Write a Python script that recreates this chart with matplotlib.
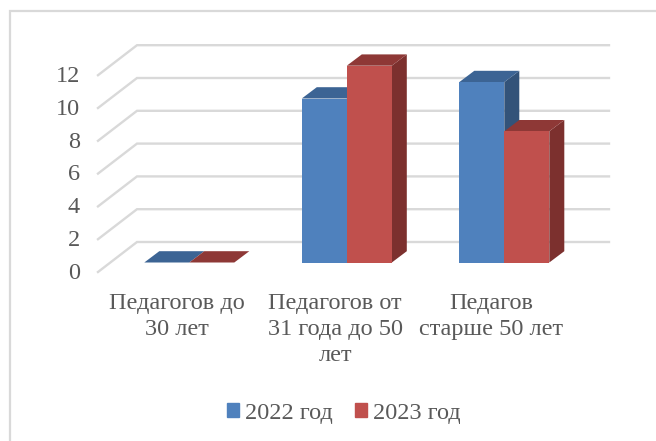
import matplotlib
matplotlib.use("Agg")
import matplotlib.pyplot as plt
from matplotlib.lines import Line2D
from matplotlib.patches import Polygon, Rectangle

plt.rcParams["font.family"] = ["Liberation Serif", "DejaVu Serif"]

# ================================
# Data
# ================================
categories = ["Педагогов до\n30 лет", "Педагогов от\n31 года до 50\nлет", "Педагов\nстарше 50 лет"]
values_2022 = [0, 10, 11]
values_2023 = [0, 12, 8]
y_ticks = [0, 2, 4, 6, 8, 10, 12]
series_names = ["2022 год", "2023 год"]

# ================================
# Layout, in pixels of the 656x441 picture
# ================================
W, H = 656, 441
PX_CAT = 157.5      # distance between groups
PX_UNIT = 16.4      # one value unit on the front plane
X0 = 189.3          # centre of first group
Y0 = 262.5          # baseline of bars
bar_w = 45 / PX_CAT
dep_x = 15 / PX_CAT
dep_y = 11.3 / PX_UNIT
wall_x = (137 - X0) / PX_CAT
wall_r = (609 - X0) / PX_CAT
wall_dy = (Y0 - 242) / PX_UNIT
front_x = (98 - X0) / PX_CAT
front_dy = (Y0 - 272) / PX_UNIT

grid_col = "#d9d9d9"
text_col = "#595959"
colors = {
    "2022": ("#4f81bd", "#3c6494", "#335379"),
    "2023": ("#c0504d", "#8e3836", "#7c302e"),
}

fig = plt.figure(figsize=(W / 100, H / 100), dpi=100)
ax = fig.add_axes([0, 0, 1, 1])
ax.set_xlim(-X0 / PX_CAT, (W - X0) / PX_CAT)
ax.set_ylim(-(H - Y0) / PX_UNIT, Y0 / PX_UNIT)
ax.axis("off")

# ================================
# Gridlines on wall and floor side
# ================================
for v in y_ticks:
    ax.plot([front_x, wall_x, wall_r], [v + front_dy, v + wall_dy, v + wall_dy],
            color=grid_col, lw=1.7, solid_joinstyle="miter", zorder=1)
    ax.text(front_x - 18 / PX_CAT, v - 0.66, str(v), ha="right", va="center",
            fontsize=17.5, color=text_col)


def draw_bar(x, v, cols, z):
    front, top, side = cols
    ax.add_patch(Polygon([(x + bar_w, 0), (x + bar_w + dep_x, dep_y),
                          (x + bar_w + dep_x, v + dep_y), (x + bar_w, v)],
                         facecolor=side, edgecolor="none", zorder=z))
    ax.add_patch(Polygon([(x, v), (x + dep_x, v + dep_y),
                          (x + bar_w + dep_x, v + dep_y), (x + bar_w, v)],
                         facecolor=top, edgecolor="none", zorder=z))
    ax.add_patch(Rectangle((x, 0), bar_w, v, facecolor=front, edgecolor="none", zorder=z))


# ================================
# Bars
# ================================
for i in range(len(categories)):
    draw_bar(i - bar_w, values_2022[i], colors["2022"], 3)
    draw_bar(i, values_2023[i], colors["2023"], 4)

# ================================
# Category labels
# ================================
label_x = [177, 335, 491]
for lx, cat in zip(label_x, categories):
    ax.text((lx - X0) / PX_CAT, (Y0 - 292.5) / PX_UNIT, cat, ha="center", va="top",
            fontsize=17.5, color=text_col, linespacing=1.34)

# ================================
# Legend
# ================================
handles = [Rectangle((0, 0), 1, 1, color=colors["2022"][0]),
           Rectangle((0, 0), 1, 1, color=colors["2023"][0])]
fig.legend(handles, series_names, loc="center", bbox_to_anchor=(343.5 / W, 1 - 413.5 / H),
           ncol=2, frameon=False, fontsize=17.5, labelcolor=text_col,
           handlelength=0.5, handleheight=0.5, handletextpad=0.25, columnspacing=0.9)

# ================================
# Chart frame: only left and top edges show in the picture
# ================================
fig.add_artist(Line2D([9.5 / W, 9.5 / W, 1], [0, 1 - 10.5 / H, 1 - 10.5 / H],
                      transform=fig.transFigure, color=grid_col, lw=1.6,
                      solid_joinstyle="miter"))

fig.savefig("out.png", dpi=100)
